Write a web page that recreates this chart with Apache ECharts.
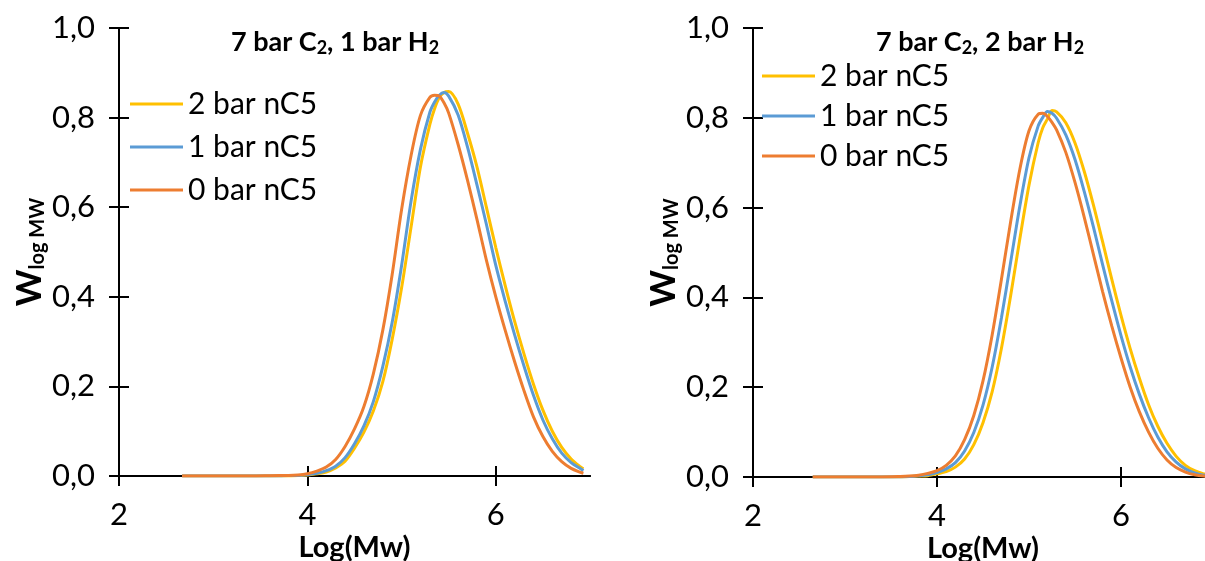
<!DOCTYPE html>
<html>
<head>
<meta charset="utf-8">
<script src="https://cdn.jsdelivr.net/npm/echarts@6/dist/echarts.min.js"></script>
<style>
  html, body { margin: 0; padding: 0; background: #fff; }
  #chart { width: 1205px; height: 561px; }
</style>
</head>
<body>
<div id="chart"></div>
<script>
const seriesNames = ['2 bar nC5', '1 bar nC5', '0 bar nC5'];
const colors = ['#FFC000', '#5B9BD5', '#ED7D31'];
const xTicks = [2, 4, 6];
const yTicks = [0, 0.2, 0.4, 0.6, 0.8, 1.0];
const yTickLabels = ['0,0', '0,2', '0,4', '0,6', '0,8', '1,0'];

// left panel: 7 bar C2, 1 bar H2
const logMwLeft = [2.67, 3.0, 3.4, 3.7, 3.8, 3.9, 4.0, 4.1, 4.2, 4.3, 4.4, 4.5, 4.6, 4.7, 4.8, 4.9, 5.0, 5.1, 5.2, 5.3,
  5.35, 5.4, 5.45, 5.5, 5.6, 5.7, 5.8, 5.9, 6.0, 6.1, 6.2, 6.3, 6.4, 6.5, 6.6, 6.7, 6.8, 6.9, 6.93];
const left2bar = [0, 0, 0, 0, 0, 0.001, 0.002, 0.005, 0.009, 0.018, 0.033, 0.062, 0.098, 0.145, 0.21, 0.305, 0.42, 0.555, 0.69, 0.785,
  0.82, 0.845, 0.856, 0.858, 0.83, 0.765, 0.69, 0.60, 0.51, 0.425, 0.345, 0.272, 0.205, 0.147, 0.10, 0.064, 0.038, 0.02, 0.016];
const left1bar = [0, 0, 0, 0, 0.001, 0.001, 0.003, 0.006, 0.012, 0.022, 0.041, 0.072, 0.112, 0.166, 0.244, 0.343, 0.47, 0.613, 0.729, 0.812,
  0.835, 0.85, 0.856, 0.848, 0.806, 0.734, 0.65, 0.562, 0.47, 0.39, 0.315, 0.245, 0.18, 0.125, 0.083, 0.051, 0.03, 0.016, 0.012];
const left0bar = [0, 0, 0, 0.001, 0.001, 0.002, 0.005, 0.011, 0.02, 0.037, 0.066, 0.105, 0.155, 0.228, 0.325, 0.45, 0.595, 0.715, 0.805, 0.845,
  0.85, 0.848, 0.833, 0.81, 0.74, 0.66, 0.573, 0.482, 0.40, 0.325, 0.255, 0.19, 0.132, 0.088, 0.055, 0.032, 0.017, 0.008, 0.006];

// right panel: 7 bar C2, 2 bar H2
const logMwRight = [2.65, 3.0, 3.4, 3.6, 3.7, 3.8, 3.9, 4.0, 4.1, 4.2, 4.3, 4.4, 4.5, 4.6, 4.7, 4.8, 4.9, 5.0, 5.1, 5.15,
  5.2, 5.25, 5.3, 5.4, 5.5, 5.6, 5.7, 5.8, 5.9, 6.0, 6.1, 6.2, 6.3, 6.4, 6.5, 6.6, 6.7, 6.8, 6.9, 7.0];
const right2bar = [0, 0, 0, 0, 0.001, 0.002, 0.003, 0.007, 0.012, 0.022, 0.04, 0.072, 0.121, 0.19, 0.286, 0.403, 0.53, 0.65, 0.745, 0.778,
  0.797, 0.816, 0.813, 0.789, 0.744, 0.681, 0.606, 0.524, 0.44, 0.36, 0.286, 0.22, 0.161, 0.113, 0.075, 0.046, 0.026, 0.014, 0.007, 0.003];
const right1bar = [0, 0, 0, 0, 0.001, 0.003, 0.005, 0.01, 0.018, 0.032, 0.058, 0.099, 0.16, 0.245, 0.354, 0.478, 0.603, 0.711, 0.782, 0.801,
  0.814, 0.81, 0.799, 0.762, 0.707, 0.636, 0.557, 0.473, 0.392, 0.315, 0.245, 0.184, 0.132, 0.089, 0.056, 0.033, 0.018, 0.009, 0.004, 0.002];
const right0bar = [0, 0, 0, 0.001, 0.002, 0.004, 0.008, 0.014, 0.026, 0.047, 0.083, 0.137, 0.214, 0.317, 0.44, 0.568, 0.685, 0.771, 0.808, 0.81,
  0.803, 0.79, 0.773, 0.723, 0.656, 0.579, 0.496, 0.413, 0.336, 0.265, 0.20, 0.145, 0.10, 0.064, 0.038, 0.021, 0.011, 0.005, 0.002, 0.001];

const font = 'Lato';

function pairs(xs, ys) {
  return xs.map((x, i) => [x, ys[i]]);
}

// main x axis at the bottom, ticks pointing down
function makeX(gridIndex) {
  return {
    type: 'value', gridIndex: gridIndex, min: 2, max: 7, position: 'bottom',
    axisLine: { show: true, onZero: false, lineStyle: { color: '#000', width: 2 } },
    axisTick: { show: true, length: 10, customValues: xTicks, lineStyle: { color: '#000', width: 2 } },
    axisLabel: { customValues: xTicks, margin: 23, fontSize: 31, color: '#000', fontFamily: font },
    splitLine: { show: false },
    name: 'Log(Mw)', nameLocation: 'middle', nameGap: 57, nameMoveOverlap: false,
    nameTextStyle: { fontSize: 29, fontWeight: 'bold', color: '#000', fontFamily: font }
  };
}

// twin x axis moved down onto the bottom line, ticks pointing up (cross ticks)
function makeXTwin(gridIndex, height) {
  return {
    type: 'value', gridIndex: gridIndex, min: 2, max: 7, position: 'top', offset: -height,
    axisLine: { show: true, onZero: false, lineStyle: { color: '#000', width: 2 } },
    axisTick: { show: true, length: 10, customValues: xTicks, lineStyle: { color: '#000', width: 2 } },
    axisLabel: { show: false },
    splitLine: { show: false }
  };
}

function makeY(gridIndex) {
  return {
    type: 'value', gridIndex: gridIndex, min: 0, max: 1, interval: 0.2, position: 'left',
    axisLine: { show: true, lineStyle: { color: '#000', width: 2 } },
    axisTick: { show: true, length: 10, lineStyle: { color: '#000', width: 2 } },
    axisLabel: {
      margin: 24, fontSize: 31, color: '#000', fontFamily: font,
      formatter: v => yTickLabels[yTicks.indexOf(Math.round(v * 10) / 10)]
    },
    splitLine: { show: false },
    name: '{w|W}{s|log MW}', nameLocation: 'middle', nameRotate: 90, nameGap: 71, nameMoveOverlap: false,
    nameTextStyle: {
      color: '#000', fontFamily: font,
      rich: {
        w: { fontSize: 35, fontWeight: 'bold', color: '#000', fontFamily: font },
        s: { fontSize: 20, fontWeight: 'bold', color: '#000', fontFamily: font, padding: [17, 0, 0, 0] }
      }
    }
  };
}

// twin y axis moved left onto the main line, ticks pointing right
function makeYTwin(gridIndex, width) {
  return {
    type: 'value', gridIndex: gridIndex, min: 0, max: 1, interval: 0.2, position: 'right', offset: -width,
    axisLine: { show: true, lineStyle: { color: '#000', width: 2 } },
    axisTick: { show: true, length: 10, lineStyle: { color: '#000', width: 2 } },
    axisLabel: { show: false },
    splitLine: { show: false }
  };
}

function titleText(x, text) {
  return {
    type: 'text', x: x, y: 42,
    style: {
      text: text, align: 'center', verticalAlign: 'middle', fill: '#000',
      rich: {
        b: { fontSize: 27, fontWeight: 'bold', fontFamily: font, fill: '#000' },
        s: { fontSize: 18, fontWeight: 'bold', fontFamily: font, fill: '#000', padding: [13, 0, 0, 0] }
      }
    }
  };
}

function makeLegend(left, top, gap) {
  return {
    orient: 'vertical', left: left, top: top, itemGap: gap, padding: 0,
    itemWidth: 53, itemHeight: 3, icon: 'rect',
    data: seriesNames,
    textStyle: { fontSize: 30, lineHeight: 32, color: '#000', fontFamily: font }
  };
}

const leftData = [left2bar, left1bar, left0bar];
const rightData = [right2bar, right1bar, right0bar];

const series = [];
[[logMwLeft, leftData, 0], [logMwRight, rightData, 1]].forEach(([xs, sets, g]) => {
  sets.forEach((ys, i) => {
    series.push({
      name: seriesNames[i], type: 'line', xAxisIndex: g * 2, yAxisIndex: g * 2,
      data: pairs(xs, ys), color: colors[i], showSymbol: false, smooth: 0.3,
      lineStyle: { width: 3, color: colors[i] }
    });
  });
});

const chart = echarts.init(document.getElementById('chart'), null, { renderer: 'canvas' });
chart.setOption({
  animation: false,
  backgroundColor: '#fff',
  grid: [
    { left: 119, top: 28, width: 471, height: 448, outerBoundsMode: 'none' },
    { left: 753, top: 28, width: 460, height: 449, outerBoundsMode: 'none' }
  ],
  xAxis: [makeX(0), makeXTwin(0, 448), makeX(1), makeXTwin(1, 449)],
  yAxis: [makeY(0), makeYTwin(0, 471), makeY(1), makeYTwin(1, 460)],
  legend: [makeLegend(130, 88, 11), makeLegend(762, 60, 8)],
  graphic: [
    titleText(335, '{b|7 bar C}{s|2}{b|, 1 bar H}{s|2}'),
    titleText(980, '{b|7 bar C}{s|2}{b|, 2 bar H}{s|2}')
  ],
  series: series
});
</script>
</body>
</html>
